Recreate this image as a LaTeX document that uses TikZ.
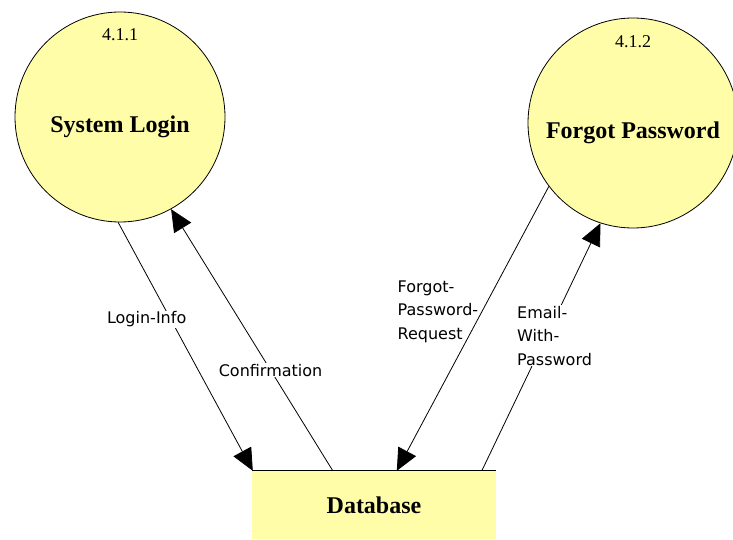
\documentclass[tikz,border=0pt]{standalone}
\usepackage{fontspec}
\setmainfont{Liberation Serif}
\newfontfamily\flowfont{DejaVu Sans}
\usetikzlibrary{arrows.meta}

\definecolor{bubblefill}{RGB}{255,253,168}

\begin{document}
\begin{tikzpicture}
    [
        x=1pt, y=-1pt,
        bubble/.style={circle, draw=black, fill=bubblefill, line width=0.8pt, minimum size=210pt, inner sep=0pt},
        store/.style={rectangle, fill=bubblefill, minimum width=244pt, minimum height=68pt, font=\fontsize{24}{28}\selectfont\bfseries},
        title/.style={font=\fontsize{24}{28}\selectfont\bfseries},
        procnum/.style={font=\fontsize{18}{20}\selectfont},
        flow/.style={line width=0.8pt, -{Triangle[length=22pt, width=20pt]}},
        flowlabel/.style={fill=white, inner sep=1pt, align=left, font=\flowfont\fontsize{16}{23.5}\selectfont},
    ]
    \useasboundingbox (0,0) rectangle (733,540);

    \node[bubble] (login) at (120,117) {};
    \node[title] (login text) at ([yshift=-10pt]login.center) {System Login};
    \node[procnum] (login num) at ([yshift=-23pt]login.north) {4.1.1};

    \node[bubble] (forgot) at (633,123) {};
    \node[title] (forgot text) at ([yshift=-10pt]forgot.center) {Forgot Password};
    \node[procnum] (forgot num) at ([yshift=-24pt]forgot.north) {4.1.2};

    \node[store] (db) at (374,505) {Database};
    \draw[line width=0.8pt] (db.north west) -- (db.north east);

    % flows
    \draw[flow] (login.269) -- node[flowlabel, pos=0.39, xshift=-24pt] {Login-Info} ([xshift=1pt]db.north west);
    \draw[flow] ([xshift=81pt]db.north west) -- node[flowlabel, pos=0.385] {Confirmation} (login.-61);
    \draw[flow] (forgot.217) -- node[flowlabel, fill=none, pos=0.44, xshift=-44pt] {Forgot-\\Password-\\Request} ([xshift=145pt]db.north west);
    \draw[flow] ([xshift=230pt]db.north west) -- node[flowlabel, pos=0.546, xshift=8pt] {Email-\\With-\\Password} (forgot.252.6);
\end{tikzpicture}
\end{document}
